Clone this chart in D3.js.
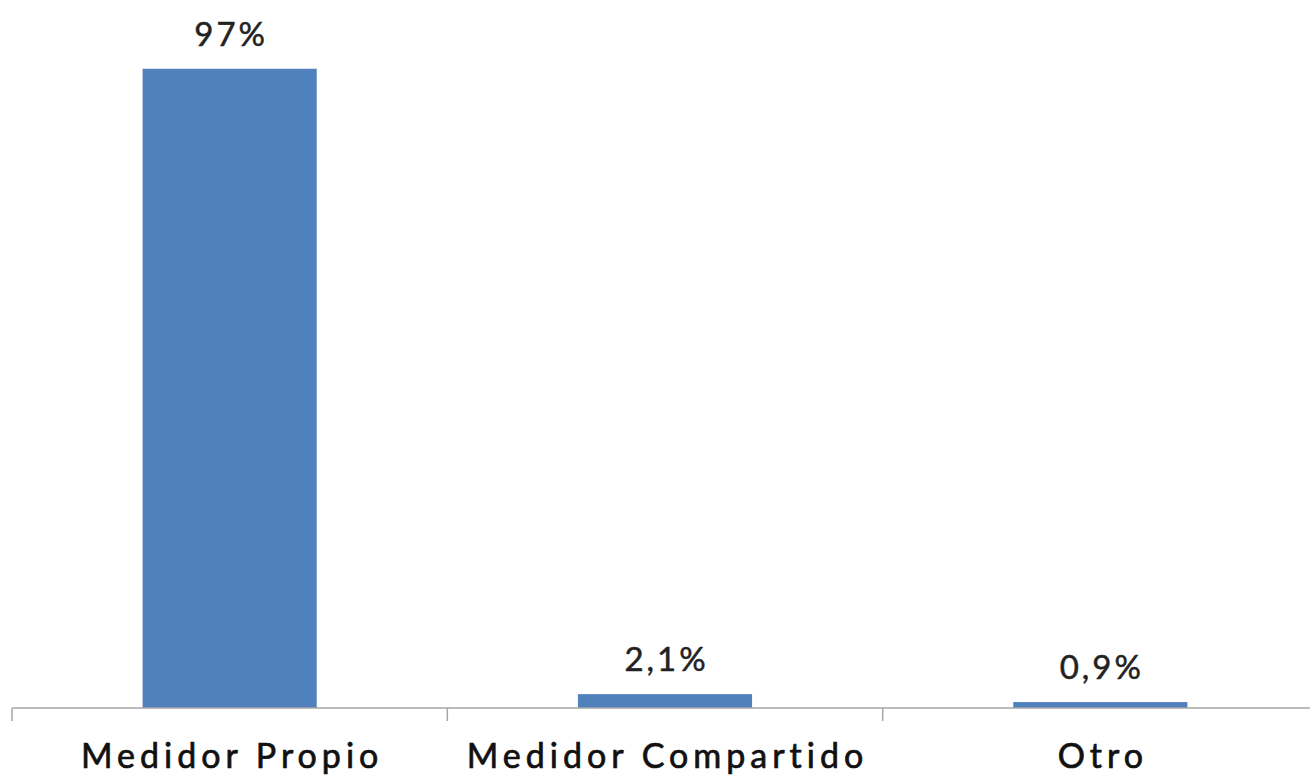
<!DOCTYPE html>
<html>
<head>
<meta charset="utf-8">
<script src="https://cdn.jsdelivr.net/npm/d3@7"></script>
<style>
  html, body { margin: 0; padding: 0; background: #fff; }
  svg { display: block; }
  text { font-family: Lato, "Open Sans", sans-serif; }
</style>
</head>
<body>
<svg id="chart" width="1310" height="778"></svg>
<script>
// Tipo de medidor de electricidad (% de hogares)
const categories = ["Medidor Propio", "Medidor Compartido", "Otro"];
const values = [97, 2.1, 0.9];
const valueLabels = ["97%", "2,1%", "0,9%"];

const svg = d3.select("#chart");
const baseline = 708;

const x = d3.scaleBand()
  .domain(categories)
  .range([12, 1318])
  .paddingInner(0.6)
  .paddingOuter(0.3);

const y = d3.scaleLinear()
  .domain([0, 100])
  .range([baseline, 49]);

// Bars
svg.append("g")
  .selectAll("rect")
  .data(categories)
  .join("rect")
  .attr("x", d => x(d))
  .attr("width", x.bandwidth())
  .attr("y", (d, i) => y(values[i]))
  .attr("height", (d, i) => baseline - y(values[i]))
  .attr("fill", "#4f81bd");

// Category axis with ticks between bands
const axisG = svg.append("g").attr("class", "axis");
axisG.append("line")
  .attr("x1", 12).attr("x2", 1318)
  .attr("y1", baseline).attr("y2", baseline)
  .attr("stroke", "#a6a6a6").attr("stroke-width", 1.5);

const boundaries = categories.map(d => x(d) - x.step() * 0.3);
boundaries.push(x(categories[categories.length - 1]) + x.bandwidth() + x.step() * 0.3);
axisG.selectAll("line.tick")
  .data(boundaries)
  .join("line")
  .attr("class", "tick")
  .attr("x1", d => d).attr("x2", d => d)
  .attr("y1", baseline).attr("y2", baseline + 13)
  .attr("stroke", "#a6a6a6").attr("stroke-width", 1.5);

const catSpacing = 5;
axisG.selectAll("text")
  .data(categories)
  .join("text")
  .attr("x", d => x(d) + x.bandwidth() / 2)
  .attr("dx", catSpacing / 2)
  .attr("y", 768)
  .attr("text-anchor", "middle")
  .attr("font-size", 34)
  .attr("letter-spacing", catSpacing)
  .attr("fill", "#111")
  .attr("stroke", "#111")
  .attr("stroke-width", 0.7)
  .text(d => d);

// Value labels
const valSpacing = 3;
svg.append("g")
  .selectAll("text")
  .data(categories)
  .join("text")
  .attr("x", d => x(d) + x.bandwidth() / 2)
  .attr("dx", valSpacing / 2)
  .attr("y", (d, i) => y(values[i]) - 23)
  .attr("text-anchor", "middle")
  .attr("font-size", 33)
  .attr("letter-spacing", valSpacing)
  .attr("fill", "#222")
  .attr("stroke", "#222")
  .attr("stroke-width", 0.5)
  .text((d, i) => valueLabels[i]);
</script>
</body>
</html>
